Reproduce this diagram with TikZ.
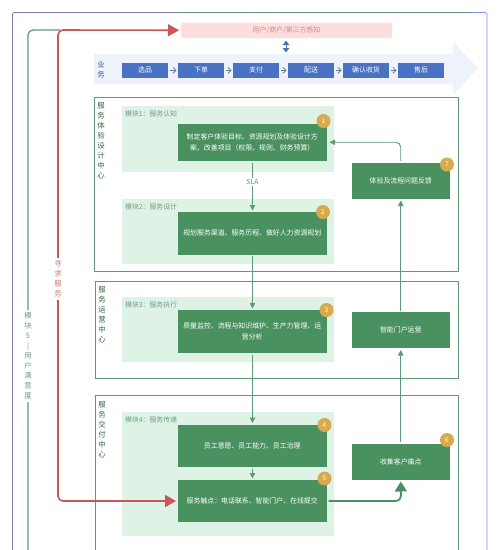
\documentclass[tikz,border=0pt]{standalone}
\usepackage{fontspec}
\setmainfont{Noto Sans CJK SC}
\usetikzlibrary{arrows.meta,shapes.arrows,calc}
\definecolor{framec}{HTML}{5F9A78}
\definecolor{panelc}{HTML}{DEF3E6}
\definecolor{boxc}{HTML}{4A9160}
\definecolor{goldc}{HTML}{D9A94F}
\definecolor{bluec}{HTML}{4A72C4}
\definecolor{redc}{HTML}{C9565A}
\definecolor{pinkc}{HTML}{FDDEDE}
\definecolor{bandc}{HTML}{EEF2FB}
\definecolor{labc}{HTML}{6E9E80}
\tikzset{
  x=1pt,y=-1pt,
  every node/.style={inner sep=0pt,outer sep=0pt,font=\fontsize{6.9}{10.5}\selectfont},
  darkbox/.style={fill=boxc,draw=none,text=white,align=center,anchor=north west},
  bizbox/.style={fill=bluec,text=white,anchor=north west,minimum width=46pt,minimum height=15.5pt},
  badge/.style={circle,fill=goldc,text=white,minimum size=14pt,font=\fontsize{6.5}{7}\selectfont},
  centerframe/.style={draw=framec,line width=.9pt},
  modlabel/.style={anchor=west,text=labc},
  vlabel/.style={align=center,font=\fontsize{7.4}{10}\selectfont,anchor=north},
  flow/.style={draw=framec,line width=.9pt,-{Triangle[length=5.5pt,width=5.5pt]}},
  bizarrow/.style={draw=black!45!bluec!70!white,line width=.8pt,-{Straight Barb[length=3pt,width=6pt]}},
}
\begin{document}
\begin{tikzpicture}
\useasboundingbox[fill=white] (0,0) rectangle (500,550);
% outer frame
\draw[draw=black!15!blue!30!gray!80,line width=.8pt,rounded corners=2pt] (12.5,550) -- (12.5,12.5) -- (175,12.5);
\draw[draw=framec!60!gray,line width=.8pt] (175,12.5) -- (470,12.5);
\draw[draw=blue!45!white,line width=.8pt,rounded corners=2pt] (470,12.5) -- (487,12.5) -- (487,550);
% band arrow
\fill[bandc] (94,54) -- (453,54) -- (453,42) -- (478,68) -- (453,95) -- (453,84) -- (94,84) -- cycle;
% perception box
\node[fill=pinkc,rounded corners=1.5pt,minimum width=211pt,minimum height=15.5pt,anchor=north west,text=redc!70!white] (percept) at (181,22.5) {用户/商户/第三方感知};
% business row
\node[vlabel,text=bluec!80!black] (bizlab) at (101,61.5) {业\\务};
\node[bizbox] (b1) at (122,62.5) {选品};
\node[bizbox] (b2) at (178,62.5) {下单};
\node[bizbox] (b3) at (233,62.5) {支付};
\node[bizbox] (b4) at (288,62.5) {配送};
\node[bizbox] (b5) at (343,62.5) {确认收货};
\node[bizbox] (b6) at (398,62.5) {售后};
\foreach \a/\b in {b1/b2,b2/b3,b3/b4,b4/b5,b5/b6}
  \draw[bizarrow,shorten >=1.5pt,shorten <=2pt] (\a) -- (\b);
\coordinate (dbltop) at (286,40.5);
\coordinate (dblbot) at (286,52.5);
\draw[draw=bluec,line width=1pt,{Triangle[length=4.5pt,width=6.5pt]}-{Triangle[length=4.5pt,width=6.5pt]}] (dbltop) -- (dblbot);
% centre frames
\draw[centerframe] (94.5,97) rectangle (458.5,271.5);
\draw[centerframe] (95.5,281) rectangle (458.5,378);
\draw[centerframe] (95.5,550) -- (95.5,395.5) -- (458.5,395.5) -- (458.5,550);
\node[vlabel,text=boxc!70!black] (c1) at (101,103) {服\\务\\体\\验\\设\\计\\中\\心};
\node[vlabel,text=boxc!70!black] (c2) at (102,287) {服\\务\\运\\营\\中\\心};
\node[vlabel,text=boxc!70!black] (c3) at (102,402) {服\\务\\交\\付\\中\\心};
% panels
\fill[panelc] (122,106) rectangle (334,171.5);
\fill[panelc] (122,199) rectangle (334,264);
\fill[panelc] (122,297) rectangle (334,362);
\fill[panelc] (122,412) rectangle (334,536);
\node[modlabel] (m1) at (125,114) {模块1：服务认知};
\node[modlabel] (m2) at (125,207) {模块2：服务设计};
\node[modlabel] (m3) at (125,305) {模块3：服务执行};
\node[modlabel] (m4) at (125,420) {模块4：服务传递};
% dark boxes
\node[darkbox,minimum width=149.5pt,minimum height=37.5pt] (n1) at (177.5,123.5) {制定客户体验目标、资源规划及体验设计方\\案、改善项目（权限、规则、财务预算）};
\node[darkbox,minimum width=149.5pt,minimum height=42.5pt] (n2) at (177.5,212) {规划服务渠道、服务历程、做好人力资源规划};
\node[darkbox,minimum width=149.5pt,minimum height=43pt] (n3) at (177.5,310) {质量监控、流程与知识维护、生产力管理、运\\营分析};
\node[darkbox,minimum width=149.5pt,minimum height=42.5pt] (n4) at (177.5,424.5) {员工意愿、员工能力、员工治理};
\node[darkbox,minimum width=149.5pt,minimum height=42pt] (n5) at (177.5,480) {服务触点：电话联系、智能门户、在线提交};
\node[darkbox,minimum width=97.5pt,minimum height=36pt] (n7) at (352,162.5) {体验及流程问题反馈};
\node[darkbox,minimum width=97.5pt,minimum height=36pt] (nm) at (352,312) {智能门户运营};
\node[darkbox,minimum width=97.5pt,minimum height=36pt] (n6) at (352,443.5) {收集客户痛点};
% badges
\node[badge] (g1) at (323.5,121) {1};
\node[badge] (g2) at (323,212) {2};
\node[badge] (g3) at (326.5,310) {3};
\node[badge] (g4) at (324.5,425) {4};
\node[badge] (g5) at (324.5,478.5) {5};
\node[badge] (g7) at (447,164.5) {7};
\node[badge] (g6) at (447,440) {6};
% centre flow
\node[text=gray,fill=white,inner ysep=1pt] (sla) at (252.5,182) {SLA};
\draw[framec,line width=.9pt,shorten <=2pt] (n1.south -| sla) -- (sla);
\draw[flow,shorten >=1.5pt] (sla) -- (n2.north -| sla);
\draw[flow,shorten <=1.5pt,shorten >=1.5pt] (n2.south -| sla) -- (n3.north -| sla);
\draw[flow,shorten <=1.5pt,shorten >=1.5pt] (n3.south -| sla) -- (n4.north -| sla);
\draw[flow,shorten <=1.5pt,shorten >=1.5pt] (n4.south -| sla) -- (n5.north -| sla);
% right flow
\draw[flow,shorten <=1.5pt,shorten >=2pt] (n6.north) -- (nm.south);
\draw[flow,shorten <=1.5pt,shorten >=2pt] (nm.north) -- (n7.south);
\draw[flow,rounded corners=5pt,shorten <=1.5pt,shorten >=2.5pt] (n7.north) |- (n1.east);
\draw[draw=boxc,line width=1.7pt,rounded corners=5pt,-{Triangle[length=10pt,width=12pt]},shorten >=2pt,shorten <=1.5pt] (n5.east) -- (401,501) -- (n6.south);
% loops
\coordinate (greenend) at (60,30);
\coordinate (greenstart) at (28,550);
\draw[draw=framec!75!gray,line width=1.2pt,rounded corners=5pt] (greenstart) -- (28,30) -- (greenend);
\draw[draw=redc,line width=1.6pt,rounded corners=5pt,{Triangle[length=11pt,width=12pt]}-{Triangle[length=11pt,width=12pt]},shorten >=2pt,shorten <=1.5pt] (n5.west) -- (58,501) -- (58,30) -- (percept.west);
\node[fill=white,align=center,text=redc!80!white,inner ysep=3pt,font=\fontsize{7.4}{10}\selectfont] (reqlab) at (58,279) {寻\\求\\服\\务};
\node[fill=white,align=center,text=labc!80!gray,inner ysep=3pt,font=\fontsize{7.4}{10}\selectfont] (satlab) at (28,356) {模\\块\\5\\|\\用\\户\\满\\意\\度};
\end{tikzpicture}
\end{document}
